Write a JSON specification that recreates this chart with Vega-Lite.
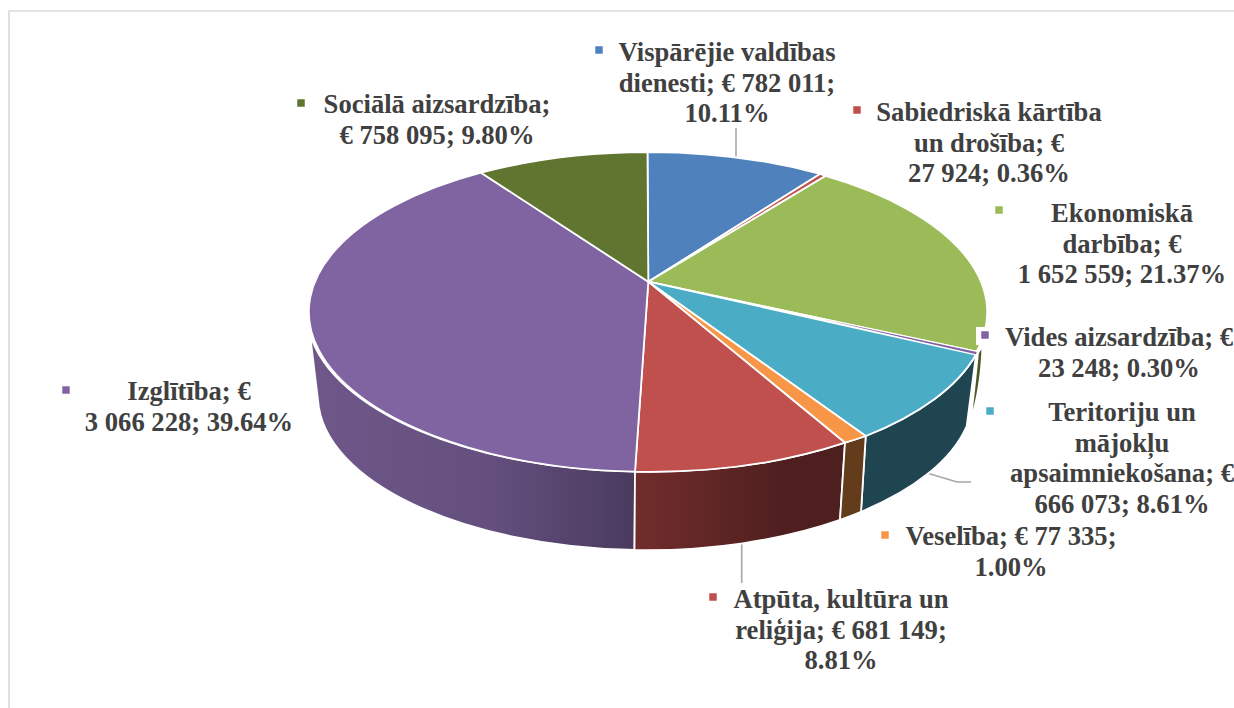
{
"$schema":"https://vega.github.io/schema/vega-lite/v6.json",
"width":1234,"height":708,"padding":0,"autosize":{"type":"none"},"background":"white",
"config":{"view":{"stroke":null}},
"datasets":{"budzets":[
{"nozare":"Vispārējie valdības dienesti","summa":782011,"proc":10.11,"label":"Vispārējie valdības\ndienesti; € 782 011;\n10.11%"},
{"nozare":"Sabiedriskā kārtība un drošība","summa":27924,"proc":0.36,"label":"Sabiedriskā kārtība\nun drošība; €\n27 924; 0.36%"},
{"nozare":"Ekonomiskā darbība","summa":1652559,"proc":21.37,"label":"Ekonomiskā\ndarbība; €\n1 652 559; 21.37%"},
{"nozare":"Vides aizsardzība","summa":23248,"proc":0.30,"label":"Vides aizsardzība; €\n23 248; 0.30%"},
{"nozare":"Teritoriju un mājokļu apsaimniekošana","summa":666073,"proc":8.61,"label":"Teritoriju un\nmājokļu\napsaimniekošana; €\n666 073; 8.61%"},
{"nozare":"Veselība","summa":77335,"proc":1.00,"label":"Veselība; € 77 335;\n1.00%"},
{"nozare":"Atpūta, kultūra un reliģija","summa":681149,"proc":8.81,"label":"Atpūta, kultūra un\nreliģija; € 681 149;\n8.81%"},
{"nozare":"Izglītība","summa":3066228,"proc":39.64,"label":"Izglītība; €\n3 066 228; 39.64%"},
{"nozare":"Sociālā aizsardzība","summa":758095,"proc":9.80,"label":"Sociālā aizsardzība;\n€ 758 095; 9.80%"}
]},
"data":{"name":"budzets"},
"resolve":{"scale":{"x":"independent","y":"independent","shape":"independent","fill":"independent"}},
"layer":[
{"data":{"values":[{"daļa":"rāmis"},{"daļa":"v1"},{"daļa":"v2"},{"daļa":"v3"}]},
 "mark":{"type":"point","filled":false,"size":4,"opacity":1,"strokeWidth":1.6},
 "encoding":{"shape":{"field":"daļa","type":"nominal","legend":null,"scale":{"domain":["rāmis","v1","v2","v3"],"range":[
  "M-608,354 L-608,-343 L617,-343","M119,-226 L119,-197","M124.7,189 L124.7,229","M310,119 L340,128 L354,128"]}},
  "stroke":{"field":"daļa","type":"nominal","legend":null,"scale":{"domain":["rāmis","v1","v2","v3"],"range":["#d9d9d9","#a6a6a6","#a6a6a6","#a6a6a6"]}}}},
{"transform":[{"filter":{"field":"nozare","equal":"Izglītība"}}],
 "mark":{"type":"point","filled":true,"size":4,"opacity":1,"stroke":"white","strokeWidth":1.8,
  "fill":{"gradient":"linear","x1":0,"y1":0,"x2":1,"y2":0,"stops":[{"offset":0,"color":"#6f5889"},{"offset":0.55,"color":"#644f7e"},{"offset":1,"color":"#4a3a5e"}]}},
 "encoding":{"shape":{"field":"nozare","type":"nominal","legend":null,"scale":{"domain":["Izglītība"],"range":["M-307,-20 A340 160 0 0 0 18,117.7 L17.5,196 A330 155 0 0 1 -299,46 Z"]}}}},
{"transform":[{"filter":{"field":"nozare","equal":"Atpūta, kultūra un reliģija"}}],
 "mark":{"type":"point","filled":true,"size":4,"opacity":1,"stroke":"white","strokeWidth":1.8,
  "fill":{"gradient":"linear","x1":0,"y1":0,"x2":1,"y2":0,"stops":[{"offset":0,"color":"#722d2c"},{"offset":0.7,"color":"#4f1f1f"},{"offset":1,"color":"#4e1f1f"}]}},
 "encoding":{"shape":{"field":"nozare","type":"nominal","legend":null,"scale":{"domain":["Atpūta, kultūra un reliģija"],"range":["M18,117.7 A340 160 0 0 0 228,88.7 L223,165.9 A325 155 0 0 1 17.5,196 Z"]}}}},
{"transform":[{"filter":{"field":"nozare","oneOf":["Veselība","Teritoriju un mājokļu apsaimniekošana","Ekonomiskā darbība"]}}],
 "mark":{"type":"point","filled":true,"size":4,"opacity":1,"stroke":"white","strokeWidth":1.8},
 "encoding":{
  "shape":{"field":"nozare","type":"nominal","legend":null,"scale":{"domain":["Veselība","Teritoriju un mājokļu apsaimniekošana","Ekonomiskā darbība"],"range":[
   "M228,88.7 A340 160 0 0 0 248.7,82 L244,157.8 A325 155 0 0 1 223,165.9 Z",
   "M248.7,82 A340 160 0 0 0 359,0.5 L349.7,72 A325 155 0 0 1 244,157.8 Z",
   "M365.5,-8 Q364,35 353.7,66 Q358,30 361,-1 Z"]}},
  "fill":{"field":"nozare","type":"nominal","legend":null,"scale":{"domain":["Veselība","Teritoriju un mājokļu apsaimniekošana","Ekonomiskā darbība"],"range":["#633c1b","#1f4550","#4a5a26"]}}}},
{"mark":{"type":"point","filled":true,"size":4,"opacity":1,"stroke":"white","strokeWidth":1.8},
 "encoding":{
  "shape":{"field":"nozare","type":"nominal","legend":null,"scale":{"domain":["Vispārējie valdības dienesti","Sabiedriskā kārtība un drošība","Ekonomiskā darbība","Vides aizsardzība","Teritoriju un mājokļu apsaimniekošana","Veselība","Atpūta, kultūra un reliģija","Izglītība","Sociālā aizsardzība"],"range":[
   "M31.3,-72.3 L30.5,-202 A340 160 0 0 1 203,-180 Z",
   "M31.3,-72.3 L203,-180 A340 160 0 0 1 208.5,-178 Z",
   "M31.3,-72.3 L208.5,-178 A340 160 0 0 1 359.7,-2.3 Z",
   "M31.3,-72.3 L359.7,-2.3 A340 160 0 0 1 359,0.5 Z",
   "M31.3,-72.3 L359,0.5 A340 160 0 0 1 248.7,82 Z",
   "M31.3,-72.3 L248.7,82 A340 160 0 0 1 228,88.7 Z",
   "M31.3,-72.3 L228,88.7 A340 160 0 0 1 18,117.7 Z",
   "M31.3,-72.3 L18,117.7 A340 160 0 0 1 -136,-181.3 Z",
   "M31.3,-72.3 L-136,-181.3 A340 160 0 0 1 30.5,-202 Z"]}},
  "fill":{"field":"nozare","type":"nominal","legend":null,"scale":{"domain":["Vispārējie valdības dienesti","Sabiedriskā kārtība un drošība","Ekonomiskā darbība","Vides aizsardzība","Teritoriju un mājokļu apsaimniekošana","Veselība","Atpūta, kultūra un reliģija","Izglītība","Sociālā aizsardzība"],"range":["#4f81bd","#c0504d","#9bbb59","#8064a2","#4bacc6","#f79646","#c0504d","#8064a2","#5f7530"]}}}},
{"transform":[{"filter":{"field":"nozare","equal":"Vides aizsardzība"}}],
 "mark":{"type":"point","filled":true,"size":4,"opacity":1,"fill":"#8064a2","strokeWidth":0},
 "encoding":{"shape":{"field":"nozare","type":"nominal","legend":null,"scale":{"domain":["Vides aizsardzība"],"range":["M205,-35 L359.7,-2 L359,0.3 Z"]}}}},
{"mark":{"type":"text","font":"Liberation Serif","fontWeight":"bold","fontSize":26.6,"lineHeight":30.6,"lineBreak":"\n","align":"center","baseline":"middle","fill":"#404040"},
 "encoding":{
  "text":{"field":"label","type":"nominal"},
  "x":{"field":"summa","type":"quantitative","axis":null,"scale":{"zero":false,"nice":false,"domain":[23248,27924,77335,666073,681149,758095,782011,1652559,3066228],"range":[1119,989,1011,1122,841,437,727,1122,189]}},
  "y":{"field":"summa","type":"quantitative","axis":null,"scale":{"zero":false,"nice":false,"domain":[23248,27924,77335,666073,681149,758095,782011,1652559,3066228],"range":[338,113,537,413,600,105,53,214,392]}}}},
{"transform":[{"filter":{"field":"nozare","equal":"Vides aizsardzība"}}],
 "mark":{"type":"square","filled":true,"size":324,"opacity":1,"fill":"white"},
 "encoding":{"x":{"field":"summa","type":"quantitative","axis":null,"scale":{"zero":false,"nice":false,"domain":[23248,23249],"range":[985,986]}},
  "y":{"field":"summa","type":"quantitative","axis":null,"scale":{"zero":false,"nice":false,"domain":[23248,23249],"range":[336,337]}}}},
{"mark":{"type":"square","filled":true,"size":56,"opacity":1},
 "encoding":{
  "x":{"field":"summa","type":"quantitative","axis":null,"scale":{"zero":false,"nice":false,"domain":[23248,27924,77335,666073,681149,758095,782011,1652559,3066228],"range":[985,857,885,990,713,301,599,999,66]}},
  "y":{"field":"summa","type":"quantitative","axis":null,"scale":{"zero":false,"nice":false,"domain":[23248,27924,77335,666073,681149,758095,782011,1652559,3066228],"range":[335,110,535,411,597,103,50,210,390]}},
  "fill":{"field":"nozare","type":"nominal","legend":null,"scale":{"domain":["Vispārējie valdības dienesti","Sabiedriskā kārtība un drošība","Ekonomiskā darbība","Vides aizsardzība","Teritoriju un mājokļu apsaimniekošana","Veselība","Atpūta, kultūra un reliģija","Izglītība","Sociālā aizsardzība"],"range":["#4f81bd","#c0504d","#9bbb59","#8064a2","#4bacc6","#f79646","#c0504d","#8064a2","#5f7530"]}}}}
]}
